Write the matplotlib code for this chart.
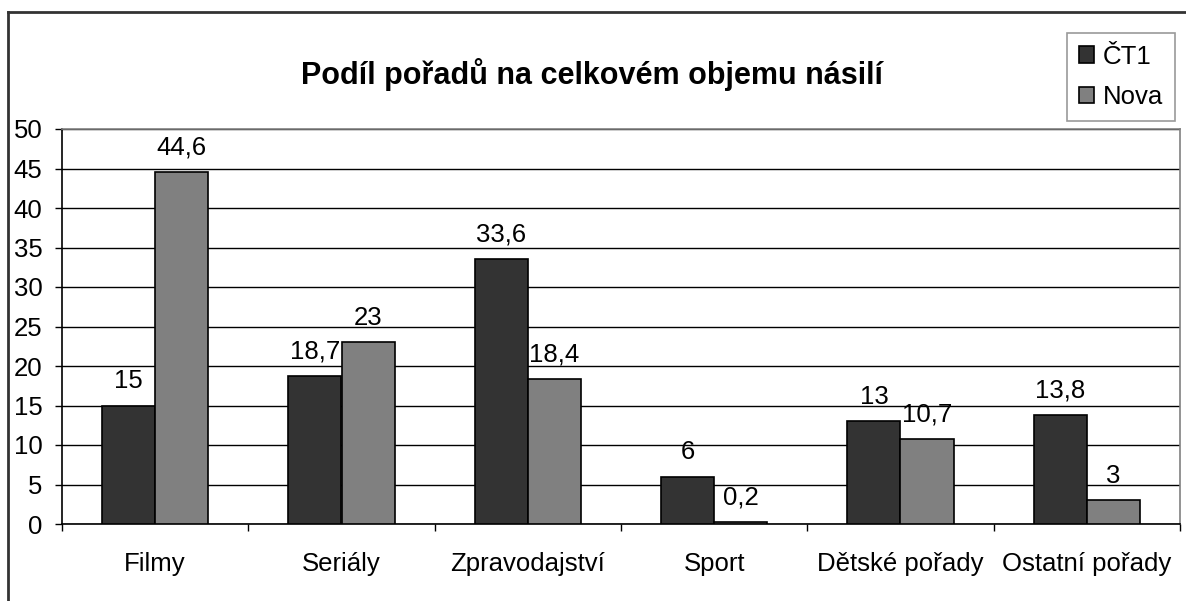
import matplotlib
matplotlib.use("Agg")
import matplotlib.pyplot as plt
from matplotlib.lines import Line2D
import numpy as np

plt.rcParams['font.family'] = ['Liberation Sans', 'DejaVu Sans']

categories = ['Filmy', 'Seriály', 'Zpravodajství', 'Sport', 'Dětské pořady', 'Ostatní pořady']
ct1 = [15, 18.7, 33.6, 6, 13, 13.8]
nova = [44.6, 23, 18.4, 0.2, 10.7, 3]
series_names = ['ČT1', 'Nova']
title = 'Podíl pořadů na celkovém objemu násilí'

W, H = 1186, 601
fs = 18.5
fig = plt.figure(figsize=(W / 100, H / 100), dpi=100)
ax = fig.add_axes([62 / W, 1 - 524 / H, (1180 - 62) / W, (524 - 129) / H])

x = np.arange(len(categories))
w = 0.285
b1 = ax.bar(x - w / 2, ct1, w, color='#333333', edgecolor='black', linewidth=1.2,
            label=series_names[0], zorder=3)
b2 = ax.bar(x + w / 2, nova, w, color='#808080', edgecolor='black', linewidth=1.2,
            label=series_names[1], zorder=3)

fmt = lambda v: f"{v:g}".replace('.', ',')
ax.bar_label(b1, labels=[fmt(v) for v in ct1], padding=9, fontsize=fs)
ax.bar_label(b2, labels=[fmt(v) for v in nova], padding=9, fontsize=fs)

ax.set_xlim(-0.5, len(categories) - 0.5)
ax.set_ylim(0, 50)
ax.set_yticks(np.arange(0, 51, 5))
ax.yaxis.grid(True, color='black', linewidth=1)
ax.set_axisbelow(True)

ax.set_xticks(x)
ax.set_xticklabels(categories)
ax.set_xticks(np.arange(-0.5, len(categories), 1), minor=True)
ax.tick_params(axis='x', which='major', length=0, pad=20, labelsize=fs)
ax.tick_params(axis='x', which='minor', length=5, width=1, direction='out', color='black')
ax.tick_params(axis='y', length=5, width=1, direction='out', pad=9, labelsize=fs)

for s in ['top', 'right']:
    ax.spines[s].set_color('#808080')
    ax.spines[s].set_linewidth(1.2)
for s in ['left', 'bottom']:
    ax.spines[s].set_color('black')
    ax.spines[s].set_linewidth(1.2)

fig.text(592 / W, 1 - 75 / H, title, ha='center', va='center', fontsize=22, fontweight='bold')

leg = fig.legend(handles=[b1, b2], loc='upper right', bbox_to_anchor=(1175 / W, 1 - 33 / H),
                 fontsize=fs, frameon=True, fancybox=False, borderaxespad=0,
                 handlelength=0.6, handleheight=0.6, handletextpad=0.35,
                 labelspacing=0.64, borderpad=0.45)
leg.get_frame().set_edgecolor('#808080')
leg.get_frame().set_linewidth(1.2)

# outer chart border
fig.add_artist(Line2D([8 / W, 8 / W], [0, 1 - 12 / H], color='#333333', linewidth=2,
                      transform=fig.transFigure))
fig.add_artist(Line2D([8 / W, 1], [1 - 12 / H, 1 - 12 / H], color='#333333', linewidth=2,
                      transform=fig.transFigure))

fig.savefig('out.png', dpi=100)
